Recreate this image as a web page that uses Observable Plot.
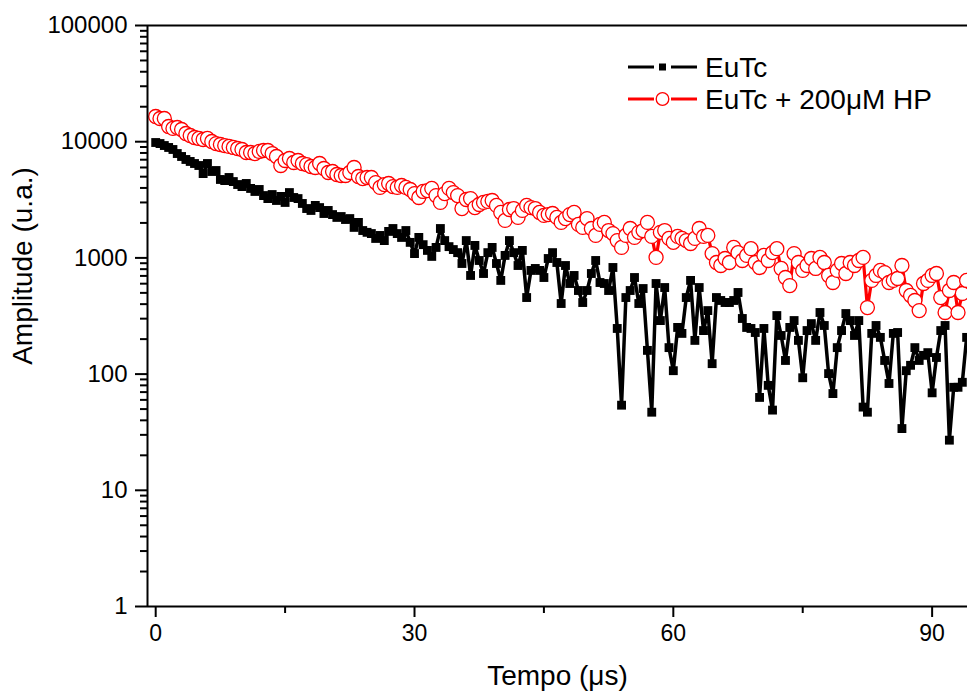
<!DOCTYPE html>
<html><head><meta charset="utf-8">
<script src="https://cdn.jsdelivr.net/npm/d3@7"></script>
<script src="https://cdn.jsdelivr.net/npm/@observablehq/plot@0.6"></script>
<style>
body{margin:0;background:#fff;}
#wrap{position:relative;width:967px;height:691px;overflow:hidden;background:#fff;}
</style></head><body><div id="wrap"></div>
<script>
// sampling grid of the decay curves (µs)
const timeStart = 0, timeStep = 0.5;
const seriesNames = ["EuTc", "EuTc + 200μM HP"];
const seriesColors = ["#000000", "#ff0000"];

// EuTc amplitude (u.a.)
const eutc = [
9840,9640,9270,8920,8570,7910,7460,7030,6760,6490,
6240,5320,6490,5540,5650,4730,4630,4920,4540,4280,
4110,4370,3960,3730,3880,3440,3240,3510,3120,3380,
3000,3650,3310,3240,2940,2660,2560,2830,2710,2410,
2560,2360,2230,2270,2140,2180,1830,2020,1720,1660,
1620,1470,1560,1410,1690,1790,1620,1500,1720,1360,
1090,1500,1300,1160,1030,1230,1790,1410,1250,1180,
1110,895,1410,706,1280,950,734,1110,1230,895,
640,1050,1410,1110,860,1160,456,780,811,780,
678,988,1110,913,405,860,602,706,524,413,
524,734,950,614,602,524,827,247,54,456,
524,678,405,545,160,47,602,289,556,169,
107,252,224,456,640,195,556,237,352,123,
456,430,413,413,430,504,301,252,247,228,
63,247,80,49,319,215,131,252,289,195,
93,237,272,195,339,262,101,68,169,237,
332,289,215,289,52,47,224,262,207,131,
83,224,228,34,107,119,169,131,145,153,
69,139,237,262,27,77,77,85,207
];

// EuTc + 200 µM HP amplitude (u.a.)
const eutcHP = [
16480,15840,15840,13520,13000,13250,12740,11770,11310,10870,
10660,10450,10660,10040,9640,9460,9270,9100,8920,8740,
8570,8070,8070,7910,8240,8400,8400,7910,7460,6240,
6890,7170,6620,6890,6490,6360,6120,6000,6490,5880,
5430,5540,5220,5120,5120,5430,6000,5020,4820,4920,
4920,4450,4040,4280,4370,4110,4040,4200,4040,3880,
3580,3310,3730,3800,3960,3440,3000,3580,3960,3650,
3440,2660,3180,3240,2710,2880,3000,3060,3120,2830,
2460,2100,2610,2660,2230,2560,2830,2710,2660,2460,
2320,2360,2410,2230,2020,2180,2360,2460,1940,1830,
2180,1790,1560,1940,2020,1720,1620,1410,1230,1560,
1790,1500,1660,1720,2020,1530,1010,1660,1720,1470,
1360,1530,1470,1410,1330,1470,1790,1530,1560,1090,
913,860,988,913,1230,1110,950,1050,1200,913,
827,1050,950,1110,1200,811,678,578,1090,913,
780,860,988,811,1010,913,706,614,780,895,
734,913,860,950,1010,374,640,706,780,748,
614,640,665,860,524,475,430,352,602,640,
706,734,456,339,524,614,339,494,640
];

const xTicks = [0, 30, 60, 90];
const xMinorTicks = [15, 45, 75];
const yTicks = [1, 10, 100, 1000, 10000, 100000];
const xDomain = [-0.95, 94.1];
const yDomain = [1, 100000];
const xTitle = "Tempo (μs)";
const yTitle = "Amplitude (u.a.)";

const yMinorTicks = [];
for (const d of [1, 10, 100, 1000, 10000]) for (let m = 2; m <= 9; m++) yMinorTicks.push(m * d);

const rows = arr => arr.map((v, i) => ({t: timeStart + i * timeStep, v}));
const blackRows = rows(eutc);
const redRows = rows(eutcHP);

const FONT = '"Liberation Sans", Arial, Helvetica, sans-serif';

const chart = Plot.plot({
  width: 967, height: 691,
  marginLeft: 147, marginRight: 0, marginTop: 25, marginBottom: 85,
  style: {fontFamily: FONT, color: "black", background: "white", overflow: "visible"},
  x: {domain: xDomain},
  y: {type: "log", domain: yDomain},
  marks: [
    Plot.line(redRows, {x: "t", y: "v", stroke: seriesColors[1], strokeWidth: 3.2, clip: true}),
    Plot.dot(redRows, {x: "t", y: "v", r: 7, stroke: seriesColors[1], fill: "white", strokeWidth: 1.3, clip: true}),
    Plot.line(blackRows, {x: "t", y: "v", stroke: seriesColors[0], strokeWidth: 3.5, clip: true}),
    Plot.dot(blackRows, {x: "t", y: "v", symbol: "square", r: 5, fill: seriesColors[0], stroke: "none", clip: true}),
    Plot.ruleX([xDomain[0]], {strokeWidth: 2}),
    Plot.ruleY([yDomain[0], yDomain[1]], {strokeWidth: 2}),
    Plot.axisY({ticks: yTicks, tickSize: 12, tickPadding: 8, strokeWidth: 2, tickFormat: d => String(d), fontSize: 24, label: null}),
    Plot.axisY({ticks: yMinorTicks, tickSize: 7, strokeWidth: 2, tickFormat: () => "", label: null}),
    Plot.axisX({ticks: xTicks, tickSize: 11, tickPadding: 7, strokeWidth: 2, tickFormat: d => String(d), fontSize: 23, label: null}),
    Plot.axisX({ticks: xMinorTicks, tickSize: 7, strokeWidth: 2, tickFormat: () => "", label: null}),
    Plot.text([xTitle], {text: d => d, frameAnchor: "bottom", textAnchor: "middle", lineAnchor: "middle", dy: 70, fontSize: 28}),
    Plot.text([yTitle], {text: d => d, frameAnchor: "left", textAnchor: "middle", lineAnchor: "middle", dx: -124, dy: -50, rotate: -90, fontSize: 28})
  ]
});

const wrap = document.getElementById("wrap");
wrap.appendChild(chart);

// legend overlay
const lg = d3.select(wrap).append("svg")
  .attr("width", 967).attr("height", 691)
  .style("position", "absolute").style("left", "0px").style("top", "0px")
  .style("font-family", FONT);
const rowsY = [67, 99];
seriesNames.forEach((name, i) => {
  const y = rowsY[i], c = seriesColors[i];
  lg.append("line").attr("x1", 628).attr("x2", 654).attr("y1", y).attr("y2", y).attr("stroke", c).attr("stroke-width", 3);
  lg.append("line").attr("x1", 671).attr("x2", 697).attr("y1", y).attr("y2", y).attr("stroke", c).attr("stroke-width", 3);
  if (i === 0) {
    lg.append("rect").attr("x", 659).attr("y", y - 3.5).attr("width", 7).attr("height", 7).attr("fill", c);
  } else {
    lg.append("circle").attr("cx", 662.5).attr("cy", y).attr("r", 6.3).attr("fill", "white").attr("stroke", c).attr("stroke-width", 1.3);
  }
  lg.append("text").attr("x", 705).attr("y", y).attr("dy", "0.36em").attr("font-size", 28).attr("fill", "black").text(name);
});
</script></body></html>
